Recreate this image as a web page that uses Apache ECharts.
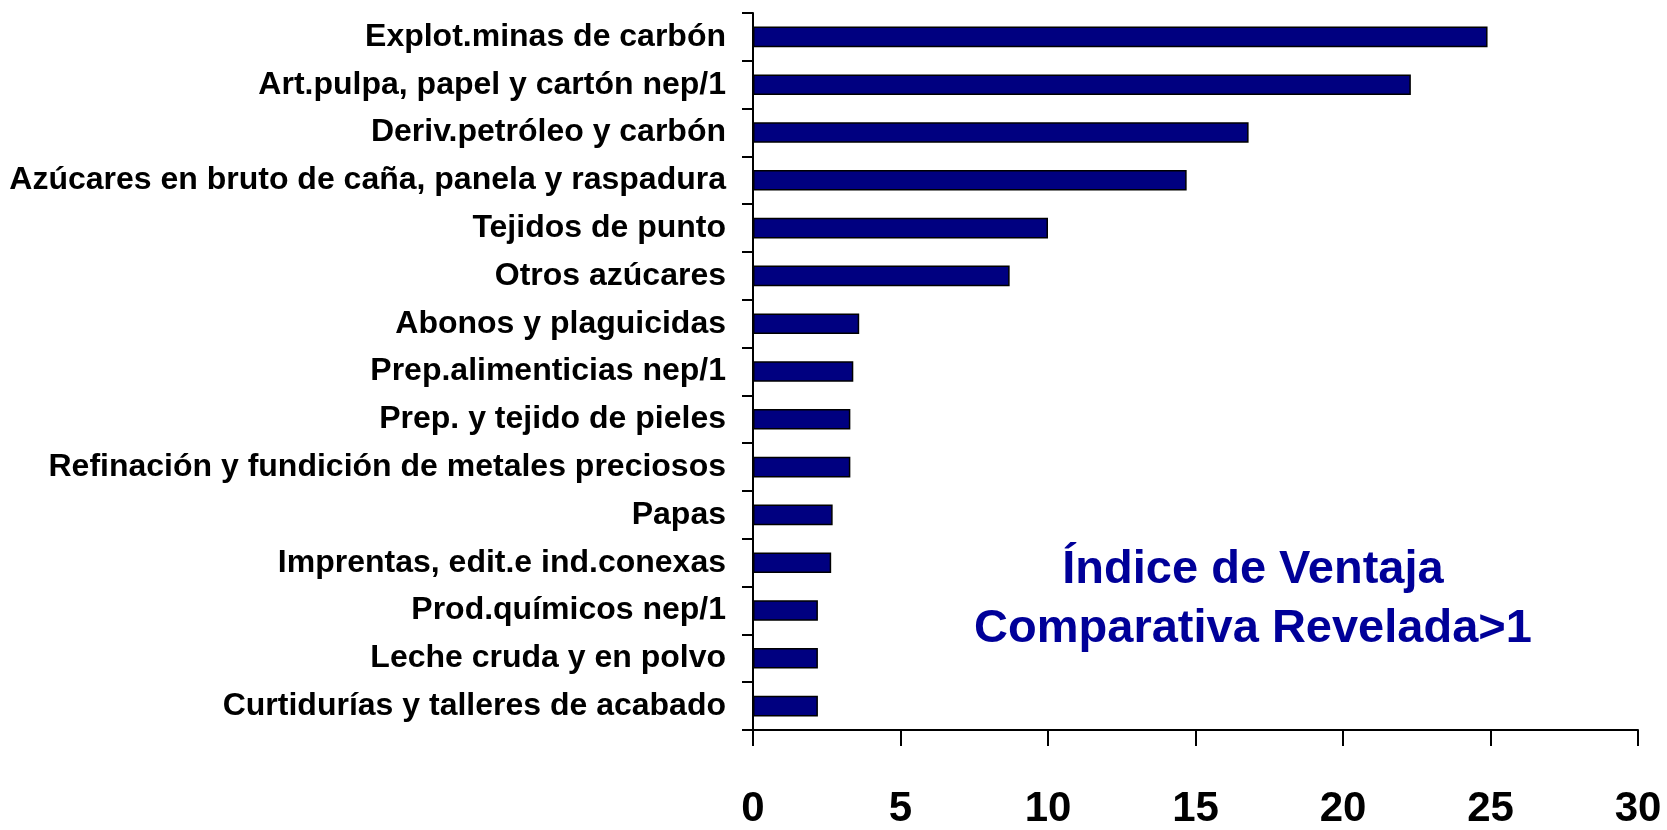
<!DOCTYPE html>
<html>
<head>
<meta charset="utf-8">
<script src="https://cdn.jsdelivr.net/npm/echarts@6/dist/echarts.min.js"></script>
<style>
  html, body { margin: 0; padding: 0; background: #ffffff; }
  #chart { width: 1667px; height: 830px; }
</style>
</head>
<body>
<div id="chart"></div>
<script>
// Sectors, top to bottom
const categories = [
  'Explot.minas de carbón',
  'Art.pulpa, papel y cartón nep/1',
  'Deriv.petróleo y carbón',
  'Azúcares en bruto de caña, panela y raspadura',
  'Tejidos de punto',
  'Otros azúcares',
  'Abonos y plaguicidas',
  'Prep.alimenticias nep/1',
  'Prep. y tejido de pieles',
  'Refinación y fundición de metales preciosos',
  'Papas',
  'Imprentas, edit.e ind.conexas',
  'Prod.químicos nep/1',
  'Leche cruda y en polvo',
  'Curtidurías y talleres de acabado'
];

// Revealed comparative advantage index per sector
const values = [24.9, 22.3, 16.8, 14.7, 10.0, 8.7, 3.6, 3.4, 3.3, 3.3, 2.7, 2.65, 2.2, 2.2, 2.2];

const xTicks = { min: 0, max: 30, interval: 5 };

const annotationLines = ['Índice de Ventaja', 'Comparativa Revelada>1'];

const FONT = '"Liberation Sans", Arial, sans-serif';

const chart = echarts.init(document.getElementById('chart'), null, { renderer: 'canvas' });

chart.setOption({
  animation: false,
  backgroundColor: '#ffffff',
  grid: { left: 753, right: 29, top: 13, bottom: 92, containLabel: false },
  xAxis: {
    type: 'value',
    min: xTicks.min,
    max: xTicks.max,
    interval: xTicks.interval,
    splitLine: { show: false },
    axisLine: { show: true, lineStyle: { color: '#000', width: 2 } },
    axisTick: { show: true, length: 16, lineStyle: { color: '#000', width: 2 } },
    axisLabel: {
      margin: 58,
      color: '#000',
      fontFamily: FONT,
      fontWeight: 'bold',
      fontSize: 42
    }
  },
  yAxis: {
    type: 'category',
    data: categories,
    inverse: true,
    axisLine: { show: true, lineStyle: { color: '#000', width: 2 } },
    axisTick: { show: true, length: 11, lineStyle: { color: '#000', width: 2 } },
    axisLabel: {
      margin: 27,
      color: '#000',
      fontFamily: FONT,
      fontWeight: 'bold',
      fontSize: 32
    }
  },
  series: [{
    type: 'bar',
    data: values,
    barWidth: '43%',
    itemStyle: { color: '#000080', borderColor: '#000', borderWidth: 1.5 }
  }],
  graphic: annotationLines.map((line, i) => ({
    type: 'text',
    style: {
      text: line,
      x: 1253,
      y: 570 + i * 59,
      textAlign: 'center',
      textVerticalAlign: 'middle',
      fill: '#000099',
      font: 'bold 47px ' + FONT
    }
  }))
});
</script>
</body>
</html>
